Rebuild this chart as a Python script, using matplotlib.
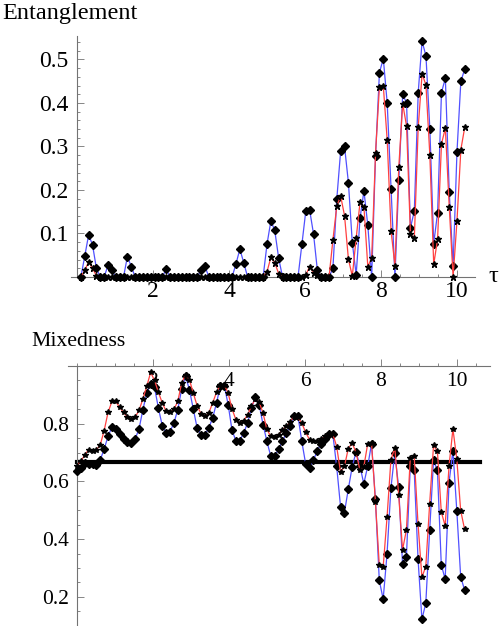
import numpy as np
import matplotlib.pyplot as plt
from matplotlib.ticker import MultipleLocator

plt.rcParams['font.family'] = ['Liberation Serif', 'DejaVu Serif']

# time step between samples
dt = 0.102

# entanglement, samples k = 1..100
ent_blue = [0, 0.048, 0.097, 0.074, 0.02, 0, 0, 0.027, 0.015, 0,
            0, 0, 0.047, 0.024, 0, 0, 0, 0, 0, 0,
            0, 0, 0.018, 0, 0, 0, 0, 0, 0, 0,
            0, 0.016, 0.025, 0, 0, 0, 0, 0, 0, 0,
            0.03, 0.064, 0.033, 0, 0, 0, 0, 0, 0.075, 0.129,
            0.107, 0.044, 0, 0, 0, 0, 0, 0.075, 0.151, 0.154,
            0.099, 0.015, 0, 0, 0, 0.02, 0.179, 0.29, 0.30, 0.217,
            0.079, 0.005, 0.135, 0.198, 0.119, 0, 0.279, 0.47, 0.502, 0.40,
            0.203, 0, 0.223, 0.42, 0.40, 0.113, 0.152, 0.424, 0.542, 0.508,
            0.341, 0.077, 0.148, 0.424, 0.457, 0.196, 0.025, 0.288, 0.45, 0.478]
ent_red = [0, 0.015, 0.035, 0.02, 0.003, 0, 0, 0, 0, 0,
           0, 0, 0, 0, 0, 0, 0, 0, 0, 0,
           0, 0, 0, 0, 0, 0, 0, 0, 0, 0,
           0, 0, 0, 0, 0, 0, 0, 0, 0, 0,
           0, 0, 0, 0, 0, 0, 0, 0, 0.012, 0.045,
           0.033, 0.008, 0, 0, 0, 0, 0, 0, 0.005, 0.024,
           0.01, 0.005, 0, 0, 0, 0.085, 0.163, 0.186, 0.141, 0.041,
           0.002, 0.089, 0.172, 0.161, 0.024, 0.044, 0.286, 0.437, 0.439, 0.315,
           0.106, 0.026, 0.254, 0.398, 0.347, 0.098, 0.090, 0.344, 0.467, 0.441,
           0.280, 0.029, 0.087, 0.306, 0.342, 0.162, 0, 0.129, 0.293, 0.344]

# mixedness, samples k = 0..100
mix_blue = [0.635, 0.646, 0.664, 0.661, 0.66, 0.657, 0.675, 0.712, 0.756, 0.788,
            0.782, 0.765, 0.747, 0.735, 0.733, 0.747, 0.782, 0.849, 0.906, 0.939,
            0.926, 0.854, 0.793, 0.768, 0.773, 0.802, 0.849, 0.92, 0.964, 0.918,
            0.851, 0.785, 0.762, 0.762, 0.785, 0.82, 0.872, 0.932, 0.932, 0.866,
            0.777, 0.741, 0.741, 0.768, 0.802, 0.854, 0.893, 0.866, 0.797, 0.739,
            0.687, 0.687, 0.712, 0.739, 0.768, 0.791, 0.828, 0.828, 0.739, 0.661,
            0.646, 0.673, 0.707, 0.731, 0.747, 0.765, 0.765, 0.652, 0.513, 0.492,
            0.573, 0.65, 0.702, 0.654, 0.592, 0.652, 0.731, 0.539, 0.257, 0.192,
            0.349, 0.577, 0.698, 0.58, 0.314, 0.338, 0.652, 0.64, 0.331, 0.122,
            0.178, 0.43, 0.673, 0.638, 0.311, 0.261, 0.596, 0.707, 0.499, 0.27, 0.224]
mix_red = [0.655, 0.67, 0.692, 0.71, 0.707, 0.71, 0.727, 0.776, 0.839, 0.877,
           0.877, 0.857, 0.839, 0.823, 0.816, 0.823, 0.846, 0.886, 0.93, 0.978,
           0.95, 0.909, 0.872, 0.843, 0.840, 0.85, 0.877, 0.941, 0.97, 0.953,
           0.906, 0.862, 0.834, 0.825, 0.837, 0.872, 0.909, 0.935, 0.935, 0.906,
           0.851, 0.814, 0.802, 0.811, 0.831, 0.86, 0.886, 0.875, 0.837, 0.78,
           0.756, 0.754, 0.762, 0.779, 0.791, 0.805, 0.828, 0.822, 0.802, 0.77,
           0.745, 0.739, 0.739, 0.747, 0.756, 0.765, 0.765, 0.721, 0.632, 0.652,
           0.714, 0.733, 0.70, 0.64, 0.65, 0.73, 0.733, 0.53, 0.311, 0.303,
           0.476, 0.675, 0.716, 0.554, 0.363, 0.432, 0.681, 0.689, 0.452, 0.268,
           0.305, 0.523, 0.725, 0.704, 0.494, 0.446, 0.654, 0.782, 0.678, 0.499, 0.435]
mix_ref = 2 / 3

tau_ent = dt * np.arange(1, len(ent_blue) + 1)
tau_mix = dt * np.arange(len(mix_blue))

blue = '#5050ff'
red = '#ff4040'
axcol = '0.45'

fig = plt.figure(figsize=(5.03, 6.26), dpi=100)

def style_axes(ax, size):
    for s in ['top', 'right']:
        ax.spines[s].set_visible(False)
    for s in ['left', 'bottom']:
        ax.spines[s].set_color(axcol)
        ax.spines[s].set_linewidth(0.8)
    ax.spines['left'].set_position(('data', 0))
    ax.tick_params(which='both', direction='in', color=axcol, labelsize=size,
                   width=0.6)
    ax.tick_params(which='major', length=5)
    ax.tick_params(which='minor', length=2.5)
    ax.patch.set_visible(False)

# entanglement panel
ax1 = fig.add_axes([71.3 / 503, 1 - 277 / 626, 403.7 / 503, 241 / 626])
ax1.plot(tau_ent, ent_blue, '-', color=blue, lw=0.9, marker='D', ms=4.2,
         mfc='k', mec='k', clip_on=False, zorder=3)
ax1.plot(tau_ent, ent_red, '-', color=red, lw=0.9, marker='*', ms=4.8,
         mfc='k', mec='k', clip_on=False, zorder=4)
ax1.set_xlim(-0.15, 10.47)
ax1.set_ylim(0, 0.554)
style_axes(ax1, 17)
ax1.xaxis.set_major_locator(MultipleLocator(2))
ax1.xaxis.set_minor_locator(MultipleLocator(0.5))
ax1.yaxis.set_major_locator(MultipleLocator(0.1))
ax1.yaxis.set_minor_locator(MultipleLocator(0.02))
ax1.set_xticks([2, 4, 6, 8, 10])
ax1.set_yticks([0.1, 0.2, 0.3, 0.4, 0.5])
ax1.tick_params(axis='x', pad=3)
ax1.tick_params(axis='y', pad=6)
fig.text(2 / 503, 1 - 14 / 626, 'Entanglement', fontsize=17.5,
         ha='left', va='center')
fig.text(493 / 503, 1 - 277 / 626, 'τ', fontsize=17.5, ha='center',
         va='center')

# mixedness panel
ax2 = fig.add_axes([67.9 / 503, 0, 422.1 / 503, 260 / 626])
ax2.axhline(mix_ref, xmin=(0 + 0.24) / 11.11, xmax=(10.6 + 0.24) / 11.11,
            color='k', lw=3, zorder=2)
ax2.plot(tau_mix, mix_blue, '-', color=blue, lw=0.9, marker='D', ms=3.8,
         mfc='k', mec='k', clip_on=False, zorder=3)
ax2.plot(tau_mix, mix_red, '-', color=red, lw=0.9, marker='*', ms=4.4,
         mfc='k', mec='k', clip_on=False, zorder=4)
ax2.set_xlim(-0.24, 10.87)
ax2.set_ylim(0.099, 1.0)
style_axes(ax2, 15.5)
ax2.spines['bottom'].set_position(('data', 1.0))
ax2.xaxis.set_major_locator(MultipleLocator(2))
ax2.xaxis.set_minor_locator(MultipleLocator(0.5))
ax2.yaxis.set_major_locator(MultipleLocator(0.2))
ax2.yaxis.set_minor_locator(MultipleLocator(0.05))
ax2.set_xticks([2, 4, 6, 8, 10])
ax2.set_yticks([0.2, 0.4, 0.6, 0.8])
ax2.tick_params(axis='x', pad=4)
ax2.tick_params(axis='y', pad=6)
fig.text(31 / 503, 1 - 342 / 626, 'Mixedness', fontsize=15.7,
         ha='left', va='center')

fig.savefig('out.png', dpi=100)
